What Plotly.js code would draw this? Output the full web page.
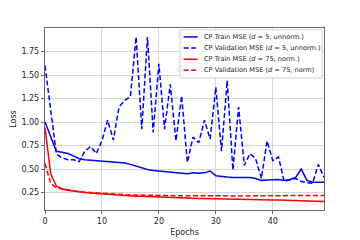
<!DOCTYPE html>
<html>
<head>
<meta charset="utf-8">
<script src="https://cdn.plot.ly/plotly-3.0.1.min.js"></script>
<style>html,body{margin:0;padding:0;background:#fff;}#chart{width:360px;height:240px;}</style>
</head>
<body>
<div id="chart"></div>
<script>
const epochs = Array.from({length: 50}, (_, i) => i);

const trainD5 = [1.00, 0.84, 0.69, 0.68, 0.665, 0.64, 0.61, 0.60, 0.595, 0.59,
  0.59, 0.585, 0.58, 0.575, 0.565, 0.55, 0.53, 0.51, 0.495, 0.485,
  0.48, 0.475, 0.47, 0.465, 0.46, 0.45, 0.46, 0.455, 0.46, 0.48,
  0.43, 0.42, 0.415, 0.41, 0.41, 0.41, 0.41, 0.40, 0.38, 0.385,
  0.385, 0.39, 0.38, 0.39, 0.41, 0.50, 0.38, 0.36, 0.36, 0.36];

const valD5 = [1.60, 1.12, 0.66, 0.62, 0.60, 0.60, 0.58, 0.69, 0.74, 0.665,
  0.80, 1.02, 0.81, 1.16, 1.23, 1.27, 1.905, 0.925, 1.905, 0.89,
  1.62, 0.925, 1.40, 0.80, 1.28, 0.57, 0.84, 0.78, 1.02, 0.82,
  1.37, 0.69, 1.44, 0.49, 1.16, 0.54, 0.665, 0.61, 0.40, 0.80,
  0.59, 0.63, 0.37, 0.385, 0.40, 0.37, 0.355, 0.35, 0.55, 0.41];

const trainD75 = [0.94, 0.45, 0.32, 0.29, 0.275, 0.265, 0.258, 0.252, 0.245, 0.24,
  0.235, 0.23, 0.226, 0.222, 0.218, 0.215, 0.212, 0.21, 0.207, 0.205,
  0.202, 0.2, 0.197, 0.195, 0.193, 0.191, 0.19, 0.188, 0.187, 0.185,
  0.184, 0.182, 0.181, 0.18, 0.179, 0.177, 0.176, 0.175, 0.174, 0.172,
  0.171, 0.17, 0.168, 0.167, 0.165, 0.163, 0.161, 0.159, 0.157, 0.155];

const valD75 = [0.56, 0.35, 0.30, 0.29, 0.275, 0.268, 0.26, 0.255, 0.25, 0.245,
  0.24, 0.237, 0.234, 0.231, 0.228, 0.226, 0.224, 0.222, 0.221, 0.22,
  0.219, 0.218, 0.217, 0.217, 0.216, 0.216, 0.215, 0.215, 0.215, 0.215,
  0.215, 0.215, 0.215, 0.215, 0.215, 0.215, 0.216, 0.216, 0.216, 0.217,
  0.217, 0.217, 0.218, 0.218, 0.218, 0.219, 0.219, 0.22, 0.22, 0.22];

const names = [
  'CP Train MSE (<i>d</i> = 5, unnorm.)',
  'CP Validation MSE (<i>d</i> = 5, unnorm.)',
  'CP Train MSE (<i>d</i> = 75, norm.)',
  'CP Validation MSE (<i>d</i> = 75, norm)'
];
const colors = ['#0000ff', '#0000ff', '#ff0000', '#ff0000'];
const dashes = ['solid', '5px,2.5px', 'solid', '5px,2.5px'];
const series = [trainD5, valD5, trainD75, valD75];
const xTicks = [0, 10, 20, 30, 40];
const yTicks = [0.25, 0.50, 0.75, 1.00, 1.25, 1.50, 1.75];

const data = series.map((y, i) => ({
  x: epochs, y: y, name: names[i], type: 'scatter', mode: 'lines',
  showlegend: false,
  line: {color: colors[i], width: 1.5, dash: dashes[i]}
}));

// compact legend (matplotlib-style) built from shapes + annotations
const legBox = {x0: 0.484, x1: 0.993, y0: 0.725, y1: 0.989};
const rowY = [0.951, 0.890, 0.828, 0.768];
const shapes = [{
  type: 'rect', xref: 'paper', yref: 'paper', layer: 'above',
  x0: legBox.x0, x1: legBox.x1, y0: legBox.y0, y1: legBox.y1,
  fillcolor: 'rgba(255,255,255,0.85)', line: {color: '#cfcfcf', width: 1}
}];
const annotations = [];
names.forEach((n, i) => {
  shapes.push({
    type: 'line', xref: 'paper', yref: 'paper', layer: 'above',
    x0: 0.497, x1: 0.547, y0: rowY[i], y1: rowY[i],
    line: {color: colors[i], width: 1.5, dash: dashes[i]}
  });
  annotations.push({
    xref: 'paper', yref: 'paper', x: 0.562, y: rowY[i],
    xanchor: 'left', yanchor: 'middle', showarrow: false, text: n,
    font: {family: 'DejaVu Sans', size: 6.6, color: '#222'}
  });
});

const axisCommon = {
  showline: true, linecolor: '#666', linewidth: 1.2, mirror: true,
  showgrid: true, gridcolor: '#d6d6d6', gridwidth: 1,
  zeroline: false, ticks: 'outside', ticklen: 3, tickcolor: '#666',
  tickfont: {family: 'DejaVu Sans', size: 8, color: '#222'}
};

const layout = {
  width: 360, height: 240,
  margin: {l: 45, r: 36, t: 28, b: 30},
  paper_bgcolor: '#fff', plot_bgcolor: '#fff',
  font: {family: 'DejaVu Sans', size: 8, color: '#222'},
  xaxis: Object.assign({}, axisCommon, {
    range: [0, 49], tickvals: xTicks, ticktext: xTicks.map(String),
    title: {text: 'Epochs', font: {size: 8}, standoff: 4}
  }),
  yaxis: Object.assign({}, axisCommon, {
    range: [0.065, 2.0], tickvals: yTicks, ticktext: yTicks.map(v => v.toFixed(2)),
    title: {text: 'Loss', font: {size: 8}, standoff: 3}
  }),
  showlegend: false,
  shapes: shapes,
  annotations: annotations
};

Plotly.newPlot('chart', data, layout, {staticPlot: true, displayModeBar: false});
</script>
</body>
</html>
